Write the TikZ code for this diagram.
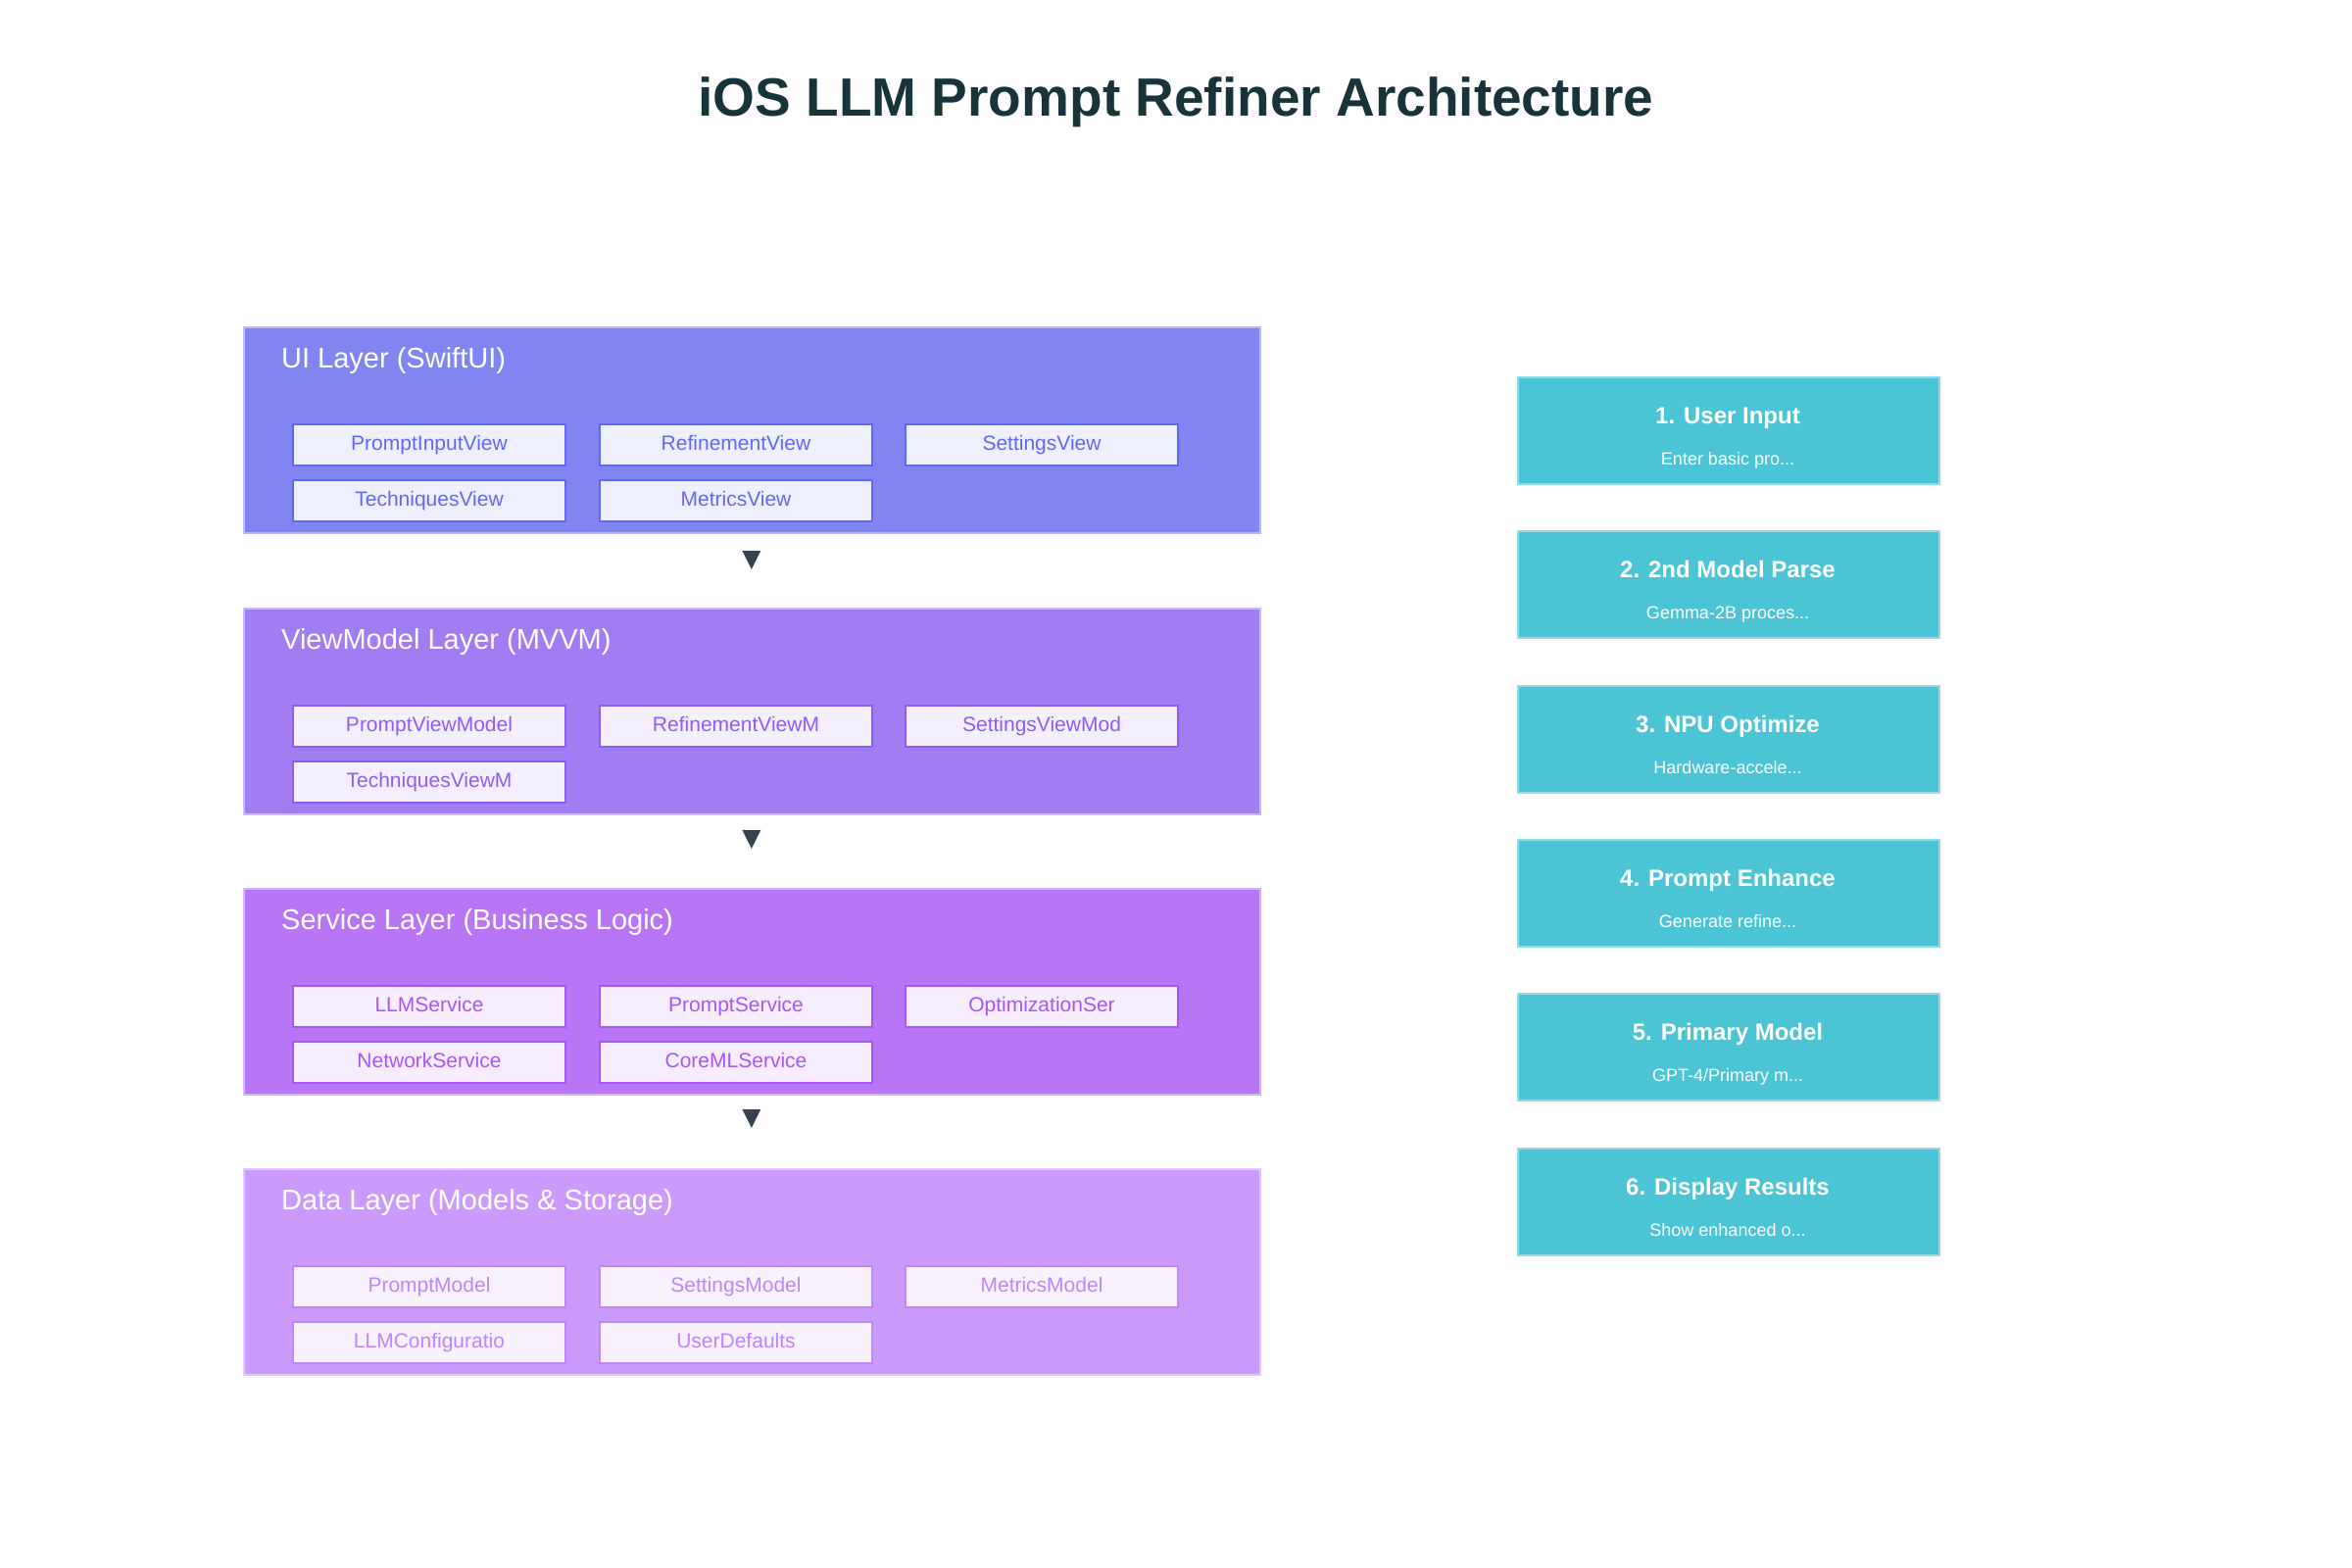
\documentclass[tikz,border=0pt]{standalone}
\usepackage{fontspec}
\setmainfont{Liberation Sans}
\newfontfamily\symfont{DejaVu Sans}
\definecolor{titlec}{HTML}{17343B}
\definecolor{uiL}{HTML}{8185F2}
\definecolor{vmL}{HTML}{A17DF4}
\definecolor{svL}{HTML}{B875F6}
\definecolor{dtL}{HTML}{CB9BFC}
\definecolor{uiB}{HTML}{6366F1}
\definecolor{uiF}{HTML}{EFF0FD}
\definecolor{vmB}{HTML}{8B5CF6}
\definecolor{vmF}{HTML}{F3EFFE}
\definecolor{svB}{HTML}{A855F7}
\definecolor{svF}{HTML}{F6EEFE}
\definecolor{dtB}{HTML}{C084FC}
\definecolor{dtF}{HTML}{F8F1FE}
\definecolor{stepc}{HTML}{4BC5D6}
\definecolor{arrc}{HTML}{374151}
\begin{document}
\begin{tikzpicture}[x=1pt,y=-1pt,
  layerbox/.style={draw=#1!55!white, line width=1.5pt, fill=#1, minimum width=1037pt, minimum height=210pt, anchor=north west, inner sep=0pt},
  layertitle/.style={anchor=base west, text=white, inner sep=0pt, font=\fontsize{29}{34}\selectfont},
  comp/.style={anchor=north west, minimum width=278pt, minimum height=42pt, inner sep=0pt, text height=15pt, text depth=4pt, line width=2pt, draw=#1B, fill=#1F, text=#1B, font=\fontsize{21}{25}\selectfont},
  downarrow/.style={text=arrc, inner sep=0pt, font=\symfont\fontsize{25}{25}\selectfont},
  stepbox/.style={anchor=north west, minimum width=430pt, minimum height=109pt, inner sep=0pt, fill=stepc, draw=stepc!60!white, line width=1.5pt},
  steptitle/.style={anchor=base, text=white, inner sep=0pt, font=\bfseries\fontsize{24}{28}\selectfont},
  stepsub/.style={anchor=base, text=white, inner sep=0pt, font=\fontsize{18}{22}\selectfont},
  maintitle/.style={anchor=base, text=titlec, inner sep=0pt, font=\bfseries\fontsize{55}{60}\selectfont}
]
\useasboundingbox (0,0) rectangle (2400,1600);
\fill[white] (0,0) rectangle (2400,1600);

\node[maintitle] (title) at (1200,119) {iOS LLM Prompt Refiner Architecture};

% UI layer
\node[layerbox=uiL] (ui) at (248,333) {};
\node[layertitle] (uit) at (287,375) {UI Layer (SwiftUI)};
\node[comp=ui] (ui1) at (298,432) {PromptInputView};
\node[comp=ui] (ui2) at (611,432) {RefinementView};
\node[comp=ui] (ui3) at (923,432) {SettingsView};
\node[comp=ui] (ui4) at (298,489) {TechniquesView};
\node[comp=ui] (ui5) at (611,489) {MetricsView};

\node[downarrow] (a1) at (767,572) {▼};

% ViewModel layer
\node[layerbox=vmL] (vm) at (248,620) {};
\node[layertitle] (vmt) at (287,662) {ViewModel Layer (MVVM)};
\node[comp=vm] (vm1) at (298,719) {PromptViewModel};
\node[comp=vm] (vm2) at (611,719) {RefinementViewM};
\node[comp=vm] (vm3) at (923,719) {SettingsViewMod};
\node[comp=vm] (vm4) at (298,776) {TechniquesViewM};

\node[downarrow] (a2) at (767,857) {▼};

% Service layer
\node[layerbox=svL] (sv) at (248,906) {};
\node[layertitle] (svt) at (287,948) {Service Layer (Business Logic)};
\node[comp=sv] (sv1) at (298,1005) {LLMService};
\node[comp=sv] (sv2) at (611,1005) {PromptService};
\node[comp=sv] (sv3) at (923,1005) {OptimizationSer};
\node[comp=sv] (sv4) at (298,1062) {NetworkService};
\node[comp=sv] (sv5) at (611,1062) {CoreMLService};

\node[downarrow] (a3) at (767,1142) {▼};

% Data layer
\node[layerbox=dtL] (dt) at (248,1192) {};
\node[layertitle] (dtt) at (287,1234) {Data Layer (Models \& Storage)};
\node[comp=dt] (dt1) at (298,1291) {PromptModel};
\node[comp=dt] (dt2) at (611,1291) {SettingsModel};
\node[comp=dt] (dt3) at (923,1291) {MetricsModel};
\node[comp=dt] (dt4) at (298,1348) {LLMConfiguratio};
\node[comp=dt] (dt5) at (611,1348) {UserDefaults};

% Steps
\node[stepbox] (s1) at (1548,384) {};
\node[steptitle] (s1t) at (1763,432) {1. User Input};
\node[stepsub] (s1s) at (1763,474) {Enter basic pro...};

\node[stepbox] (s2) at (1548,541) {};
\node[steptitle] (s2t) at (1763,589) {2. 2nd Model Parse};
\node[stepsub] (s2s) at (1763,631) {Gemma-2B proces...};

\node[stepbox] (s3) at (1548,699) {};
\node[steptitle] (s3t) at (1763,747) {3. NPU Optimize};
\node[stepsub] (s3s) at (1763,789) {Hardware-accele...};

\node[stepbox] (s4) at (1548,856) {};
\node[steptitle] (s4t) at (1763,904) {4. Prompt Enhance};
\node[stepsub] (s4s) at (1763,946) {Generate refine...};

\node[stepbox] (s5) at (1548,1013) {};
\node[steptitle] (s5t) at (1763,1061) {5. Primary Model};
\node[stepsub] (s5s) at (1763,1103) {GPT-4/Primary m...};

\node[stepbox] (s6) at (1548,1171) {};
\node[steptitle] (s6t) at (1763,1219) {6. Display Results};
\node[stepsub] (s6s) at (1763,1261) {Show enhanced o...};
\end{tikzpicture}
\end{document}
